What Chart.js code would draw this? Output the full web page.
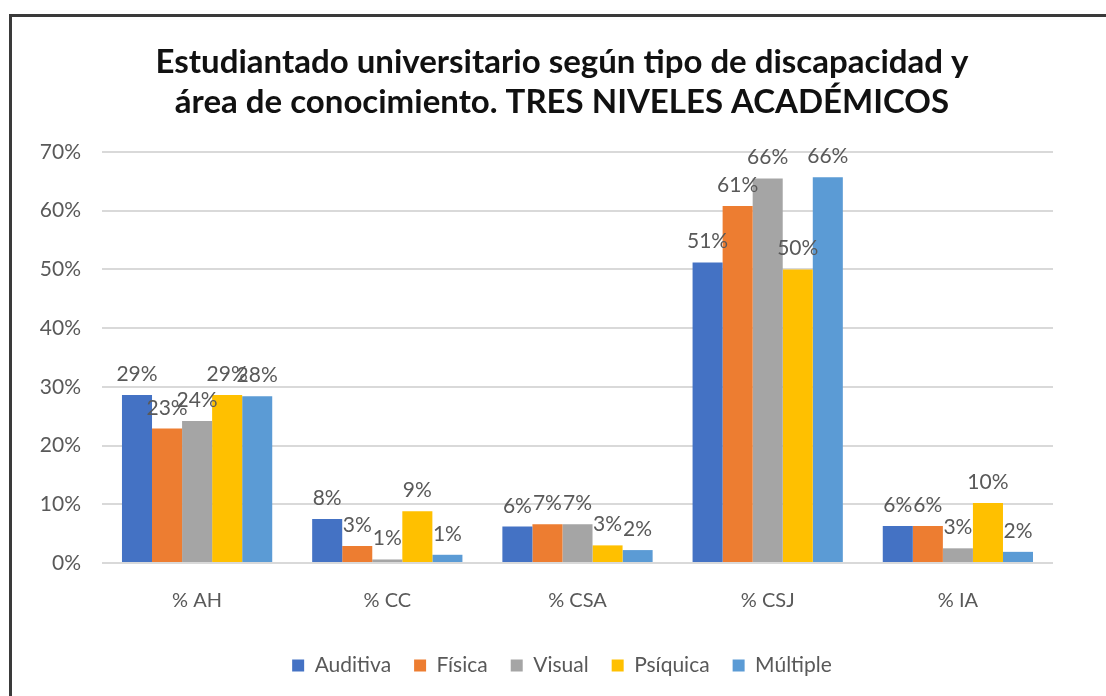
<!DOCTYPE html>
<html>
<head>
<meta charset="utf-8">
<script src="https://cdn.jsdelivr.net/npm/chart.js@4.4.0/dist/chart.umd.min.js"></script>
<style>
  html, body { margin: 0; padding: 0; background: #ffffff; overflow: hidden; }
  #wrap { position: absolute; left: 0; top: 0; width: 1106px; height: 696px; }
  #frame { position: absolute; left: 9px; top: 14px; width: 1200px; height: 800px; border: 3px solid #3a3a3a; pointer-events: none; }
</style>
</head>
<body>
<div id="wrap"><canvas id="c" width="1106" height="696"></canvas></div>
<div id="frame"></div>
<script>
const titleLines = ['Estudiantado universitario según tipo de discapacidad y', 'área de conocimiento. TRES NIVELES ACADÉMICOS'];
const categories = ['% AH', '% CC', '% CSA', '% CSJ', '% IA'];
const seriesNames = ['Auditiva', 'Física', 'Visual', 'Psíquica', 'Múltiple'];
const auditiva = [28.6, 7.5, 6.2, 51.2, 6.3];
const fisica   = [22.9, 2.9, 6.6, 60.8, 6.3];
const visual   = [24.2, 0.6, 6.6, 65.5, 2.5];
const psiquica = [28.6, 8.8, 3.0, 50.0, 10.2];
const multiple = [28.4, 1.4, 2.2, 65.7, 1.9];
const yTicks = [0, 10, 20, 30, 40, 50, 60, 70];
const colors = ['#4472C4', '#ED7D31', '#A5A5A5', '#FFC000', '#5B9BD5'];

const FONT = "Lato, 'Open Sans', sans-serif";
const allSeries = [auditiva, fisica, visual, psiquica, multiple];

const labelPlugin = {
  id: 'barLabels',
  afterDatasetsDraw(chart) {
    const ctx = chart.ctx;
    ctx.save();
    ctx.font = '21px ' + FONT;
    ctx.fillStyle = '#595959';
    ctx.textAlign = 'center';
    ctx.textBaseline = 'alphabetic';
    chart.data.datasets.forEach((ds, i) => {
      const meta = chart.getDatasetMeta(i);
      meta.data.forEach((bar, j) => {
        ctx.fillText(Math.round(ds.data[j]) + '%', bar.x, bar.y - 14);
      });
    });
    ctx.restore();
  }
};

new Chart(document.getElementById('c'), {
  type: 'bar',
  data: {
    labels: categories,
    datasets: seriesNames.map((n, i) => ({
      label: n,
      data: allSeries[i],
      backgroundColor: colors[i],
      borderWidth: 0,
      barPercentage: 1.0,
      categoryPercentage: 0.79
    }))
  },
  options: {
    responsive: false,
    animation: false,
    layout: { padding: { left: 71, right: 53, top: 30, bottom: 10 } },
    plugins: {
      title: {
        display: true,
        text: titleLines,
        color: '#111111',
        font: { family: FONT, size: 33, weight: 'bold', lineHeight: 1.212 },
        padding: { top: 12, bottom: 30 }
      },
      legend: {
        position: 'bottom',
        labels: {
          boxWidth: 12, boxHeight: 12, padding: 23,
          color: '#595959',
          font: { family: FONT, size: 21 }
        }
      },
      tooltip: { enabled: false }
    },
    scales: {
      x: {
        afterFit(scale) { scale.height = 69; },
        grid: { display: false, drawTicks: false },
        border: { display: false },
        ticks: { color: '#595959', font: { family: FONT, size: 20 }, padding: 26 }
      },
      y: {
        min: 0, max: 70,
        afterBuildTicks(scale) { scale.ticks = yTicks.map(v => ({ value: v })); },
        afterFit(scale) {
          scale.width = 31;
          scale._computeLabelArea = () => undefined;
        },
        grid: { color: '#d9d9d9', lineWidth: 2, drawTicks: false },
        border: { display: false },
        ticks: {
          color: '#595959', font: { family: FONT, size: 21 }, padding: 21,
          callback: v => v + '%'
        }
      }
    }
  },
  plugins: [labelPlugin]
});
</script>
</body>
</html>
